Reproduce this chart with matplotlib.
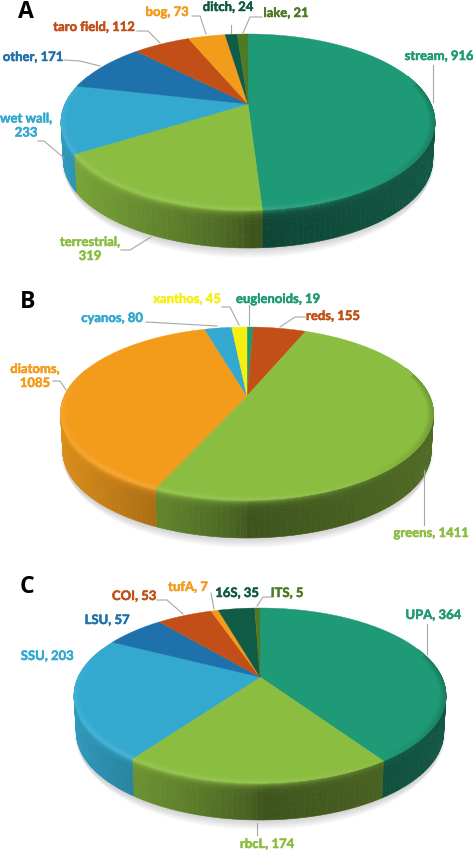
import numpy as np
import matplotlib
matplotlib.use('Agg')
import matplotlib.pyplot as plt
import matplotlib.patheffects as pe
from matplotlib.collections import PolyCollection
from matplotlib.colors import to_rgb

# values, clockwise from 12 o'clock
names_a = ['stream', 'terrestrial', 'wet wall', 'other', 'taro field', 'bog', 'ditch', 'lake']
vals_a = [916, 319, 233, 171, 112, 73, 24, 21]
names_b = ['euglenoids', 'reds', 'greens', 'diatoms', 'cyanos', 'xanthos']
vals_b = [19, 155, 1411, 1085, 80, 45]
names_c = ['UPA', 'rbcL', 'SSU', 'LSU', 'COI', 'tufA', '16S', 'ITS']
vals_c = [364, 174, 203, 57, 53, 7, 35, 5]

TEAL = '#1f9a76'
GREEN = '#8bbd40'
SKY = '#33a9cf'
BLUE = '#1f71ab'
RUST = '#c24f17'
ORANGE = '#f39c1c'
DARK = '#0f5b45'
OLIVE = '#4f7a23'
YELLOW = '#f7ee12'

cols_a = [TEAL, GREEN, SKY, BLUE, RUST, ORANGE, DARK, OLIVE]
cols_b = [TEAL, RUST, GREEN, ORANGE, SKY, YELLOW]
cols_c = [TEAL, GREEN, SKY, BLUE, RUST, ORANGE, DARK, OLIVE]

# label text centres in pixels
pos_a = [(439, 56), (90, 249), (26, 125.5), (33, 57), (94, 27), (167, 12), (228, 7), (286, 13)]
pos_b = [(278, 299), (333, 316), (431, 533), (35, 376), (112, 318), (187, 299)]
pos_c = [(433, 615), (267, 844), (47, 656), (107, 620), (134, 596), (188, 587), (237, 593), (287, 593)]
breaks_a = {'wet wall': True, 'terrestrial': True}
breaks_b = {'diatoms': True}

leaders_a = [[(433, 65), (433, 102)], [(121, 250), (130, 250), (151, 237)],
             [(38, 141), (44, 141), (64, 158)], [(64, 60), (80, 61), (100, 66)],
             [(137, 31), (148, 31), (160, 43)], [(192, 16), (200, 16), (206, 34)],
             [(231, 25), (231, 33)], [(243, 33), (250, 17), (262, 17)]]
leaders_b = [[(249, 305), (249, 325)], [(305, 317), (295, 317), (280, 327)],
             [(424, 470), (424, 525)], [(53, 381), (60, 381), (66, 390)],
             [(146, 322), (217, 326)], [(222, 307), (230, 307), (239, 325)]]
leaders_c = [[(427, 624), (427, 654)], [(257, 823), (257, 835)],
             [(211, 593), (214, 609)], [(272, 597), (263, 597), (257, 606)],
             [(157, 600), (167, 600), (183, 614)]]

W, H = 473, 850
fig = plt.figure(figsize=(W / 100, H / 100), dpi=100)
ax = fig.add_axes([0, 0, 1, 1])
ax.set_xlim(0, W)
ax.set_ylim(H, 0)
ax.axis('off')


def shade(c, f):
    c = np.array(to_rgb(c))
    if f <= 1:
        return tuple(c * f)
    return tuple(c + (1 - c) * (f - 1))


def draw_pie(cx, cy, up, down, rx, depth, vals, cols):
    k = (down - up) / (down + up)
    a = up * (1 + k)
    b = rx * np.sqrt(1 - k ** 2)

    def pts(t, r=1.0, z=0.0):
        # t clockwise from the top, r radius on the disc, z 0-1 down the side
        u, v = r * np.sin(t), r * np.cos(t)
        d = 1 + k * v
        return cx + b * u / d * (1 - 0.012 * z), cy - a * v / d + depth * z

    # soft shadow
    tt = np.linspace(0, 2 * np.pi, 200)
    for i in range(9):
        x, y = pts(tt)
        ax.fill(cx + (x - cx) * (1.0 - 0.004 * i), y + depth + 1 + i * 1.1, color='#707070',
                alpha=0.035, lw=0, zorder=1)

    ends = np.cumsum(vals) / np.sum(vals) * 2 * np.pi
    starts = np.r_[0, ends[:-1]]

    # side wall
    zs = np.array([0, 0.025, 0.05, 0.08, 0.12, 0.17, 0.24, 0.35, 0.5, 0.7, 1.0])
    quads, qcols = [], []
    for s, e, c in zip(starts, ends, cols):
        n = max(int((e - s) / np.radians(1.5)), 2)
        ang = np.linspace(s, e, n + 1)
        for t0, t1 in zip(ang[:-1], ang[1:]):
            tm = (t0 + t1) / 2
            if np.cos(tm) > 0.35:
                continue
            um = np.sin(tm)
            if um < 0:
                base = 0.46 + 0.46 * (-um) ** 0.7
            else:
                base = 0.44 + 0.14 * um
            rim = 1.16 - 0.7 * max(um, 0) ** 0.7
            for z0, z1 in zip(zs[:-1], zs[1:]):
                zm = (z0 + z1) / 2
                w = np.exp(-zm / 0.07)
                f = base * (1 - w) + rim * w
                x0, y0 = pts(t0, z=z0)
                x1, y1 = pts(t1, z=z0)
                x2, y2 = pts(t1, z=z1)
                x3, y3 = pts(t0, z=z1)
                quads.append([(x0, y0), (x1, y1), (x2, y2), (x3, y3)])
                qcols.append(shade(c, f))
    ax.add_collection(PolyCollection(quads, facecolors=qcols, edgecolors='face', linewidths=0.4, zorder=2))

    # top surface, one wedge per value
    for s, e, c in zip(starts, ends, cols):
        ang = np.linspace(s, e, max(int((e - s) / np.radians(1)), 2) + 1)
        x, y = pts(ang)
        ax.fill(np.r_[cx, x], np.r_[cy, y], color=c, lw=0.3, zorder=3)

    # bevel along the edge
    rs = [0.97, 0.98, 0.99, 1.0]
    quads, qcols = [], []
    for s, e, c in zip(starts, ends, cols):
        ang = np.linspace(s, e, max(int((e - s) / np.radians(2)), 2) + 1)
        for t0, t1 in zip(ang[:-1], ang[1:]):
            tm = (t0 + t1) / 2
            um, vm = np.sin(tm), np.cos(tm)
            for j, (r0, r1) in enumerate(zip(rs[:-1], rs[1:])):
                amt = (j + 1) / 3
                if vm > 0.25:
                    continue
                lit = 0.1 * (0.25 - vm) / 1.25 * (1 - max(um, 0)) + 0.04 * max(-um, 0)
                dark = 0.18 * max(um - 0.45, 0) / 0.55
                f = 1 + (lit - dark) * amt
                x0, y0 = pts(t0, r0)
                x1, y1 = pts(t1, r0)
                x2, y2 = pts(t1, r1)
                x3, y3 = pts(t0, r1)
                quads.append([(x0, y0), (x1, y1), (x2, y2), (x3, y3)])
                qcols.append(shade(c, f))
    ax.add_collection(PolyCollection(quads, facecolors=qcols, edgecolors='face', linewidths=0.3, zorder=4))


def draw_labels(names, vals, cols, pos, breaks):
    for nm, v, c, (x, y) in zip(names, vals, cols, pos):
        sep = '\n' if nm in breaks else ' '
        ax.text(x, y, f'{nm},{sep}{v}', color=c, ha='center', va='center', fontsize=9.4,
                family='Lato', fontweight='bold', linespacing=1.2, zorder=6,
                path_effects=[pe.withStroke(linewidth=0.35, foreground=c)])


def draw_leaders(lines):
    for ln in lines:
        ax.plot([p[0] for p in ln], [p[1] for p in ln], color='#a6a6a6', lw=0.8, zorder=5)


draw_pie(248, 104, 70, 106, 187, 38, vals_a, cols_a)
draw_pie(247, 396, 69, 104, 186.5, 38, vals_b, cols_b)
draw_pie(260, 677, 69, 106, 186, 37, vals_c, cols_c)

draw_leaders(leaders_a)
draw_leaders(leaders_b)
draw_leaders(leaders_c)

draw_labels(names_a, vals_a, cols_a, pos_a, breaks_a)
draw_labels(names_b, vals_b, cols_b, pos_b, breaks_b)
draw_labels(names_c, vals_c, cols_c, pos_c, {})

for letter, x, y in [('A', 26, 18), ('B', 28, 308), ('C', 27, 593)]:
    ax.text(x, y, letter, color='black', ha='center', va='baseline', fontsize=16.6,
            family='Open Sans', fontweight='bold', zorder=6)

fig.savefig('out.png', dpi=100)
